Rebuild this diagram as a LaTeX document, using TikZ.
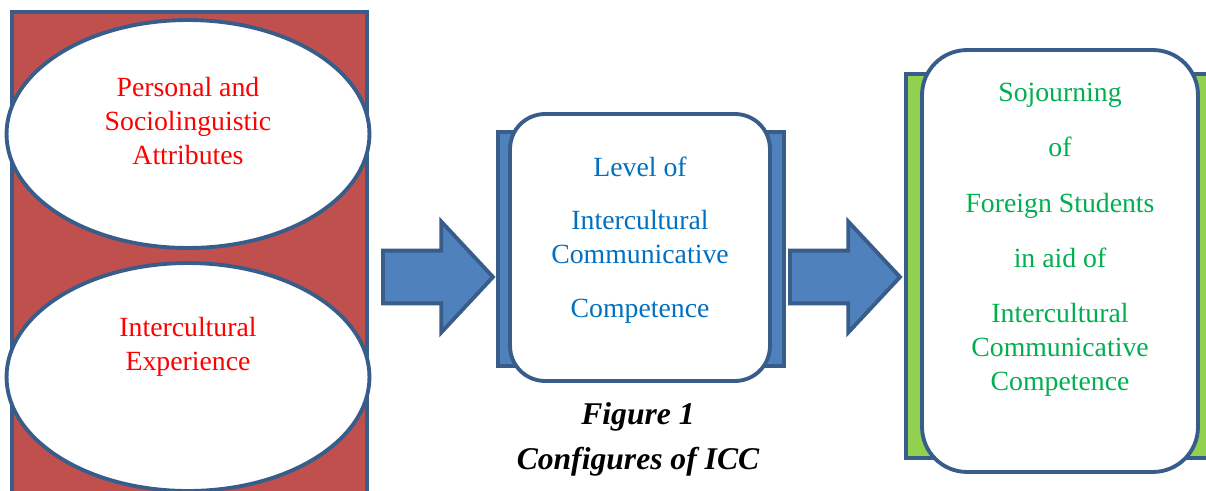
\documentclass[tikz,border=0pt]{standalone}
\usepackage{fontspec}
\setmainfont{Liberation Serif}
\usetikzlibrary{shapes.geometric,shapes.arrows}
\definecolor{edgeblue}{HTML}{385D8A}
\definecolor{brickred}{HTML}{C0504D}
\definecolor{arrowblue}{HTML}{4F81BD}
\definecolor{leafgreen}{HTML}{92D050}
\definecolor{txtred}{HTML}{FF0000}
\definecolor{txtblue}{HTML}{0070C0}
\definecolor{txtgreen}{HTML}{00B050}
\begin{document}
\begin{tikzpicture}[x=0.02cm,y=-0.02cm,inner sep=0pt,outer sep=0pt,line width=2.2pt,
backblock/.style={draw=edgeblue,rectangle},
bubble/.style={draw=edgeblue,fill=white,ellipse,minimum width=7.26cm,minimum height=4.56cm},
roundblock/.style={draw=edgeblue,fill=white,rectangle},
fatarrow/.style={draw=edgeblue,fill=arrowblue,single arrow,single arrow head extend=0.58cm,single arrow tip angle=94,text height=0.98cm,text depth=0pt,minimum width=2.14cm,minimum height=2.2cm,anchor=tail},
bodytext/.style={align=center,font=\fontsize{15.8}{19.4}\selectfont}]
\clip (0,0) rectangle (1206,490);
\draw (189.5,269.5) node[backblock,fill=brickred,minimum width=7.1cm,minimum height=10.3cm] (inputs) {};
\draw (188,134) node[bubble] (attrs) {};
\draw (188,377) node[bubble] (exper) {};
\draw (188,121) node[bodytext,text=txtred] (attrstext) {Personal and\\Sociolinguistic\\Attributes};
\draw (188,347) node[bodytext,text=txtred] (expertext) {Intercultural\\Experience};
\draw (383,277) node[fatarrow] (arrowA) {};
\draw (641,249) node[backblock,fill=arrowblue,minimum width=5.72cm,minimum height=4.68cm] (iccback) {};
\draw (640,247.5) node[roundblock,rounded corners=0.7cm,minimum width=5.2cm,minimum height=5.34cm] (icc) {};
\draw (640,240) node[bodytext,text=txtblue] (icctext) {Level of\\[11pt]Intercultural\\Communicative\\[11pt]Competence};
\draw (790,277) node[fatarrow] (arrowB) {};
\draw (1061,266) node[backblock,fill=leafgreen,minimum width=6.2cm,minimum height=7.68cm] (sojback) {};
\draw (1060,261) node[roundblock,rounded corners=0.9cm,minimum width=5.52cm,minimum height=8.44cm] (soj) {};
\draw (1060,240) node[bodytext,text=txtgreen] (sojtext) {Sojourning\\[12pt]of\\[12pt]Foreign Students\\[12pt]in aid of\\[12pt]Intercultural\\Communicative\\Competence};
\draw (638,439) node[align=center,font=\bfseries\itshape\fontsize{18}{25.6}\selectfont] (caption) {Figure 1\\Configures of ICC};
\end{tikzpicture}
\end{document}
